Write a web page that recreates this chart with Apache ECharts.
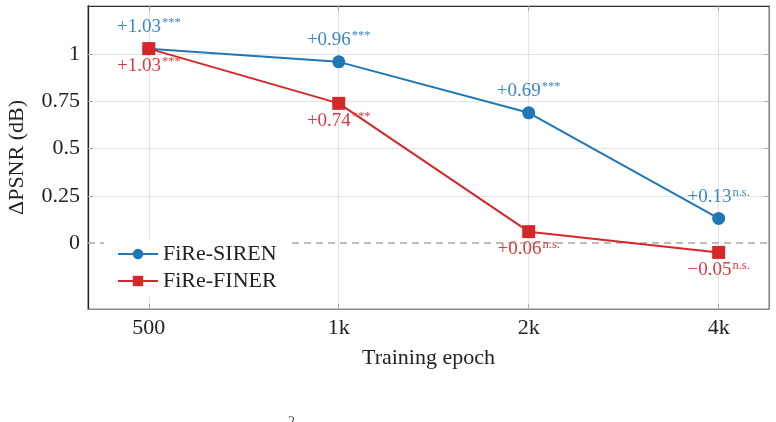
<!DOCTYPE html>
<html>
<head>
<meta charset="utf-8">
<script src="https://cdn.jsdelivr.net/npm/echarts@6/dist/echarts.min.js"></script>
<style>
  html, body { margin: 0; padding: 0; background: #fff; }
  #chart { width: 776px; height: 422px; }
</style>
</head>
<body>
<div id="chart"></div>
<script>
// Delta PSNR per training epoch, FiRe-SIREN vs FiRe-FINER.
var epochLabels = ["500", "1k", "2k", "4k"];
var sirenValues = [1.03, 0.96, 0.69, 0.13];
var finerValues = [1.03, 0.74, 0.06, -0.05];
var sirenSig = ["***", "***", "***", "n.s."];
var finerSig = ["***", "***", "n.s.", "n.s."];
var yTicks = [0, 0.25, 0.5, 0.75, 1];
var xTicks = [0, 1, 2, 3];

var FONT = "Liberation Serif";
var BLUE = "#1f77b4";
var RED = "#d62728";

function fmtDelta(v) {
  return (v < 0 ? "\u2212" : "+") + Math.abs(v).toFixed(2);
}

function toPoints(values) {
  return values.map(function (v, i) { return [xTicks[i], v]; });
}

function annotation(sig, color) {
  return {
    show: true,
    formatter: function (p) {
      return "{v|" + fmtDelta(p.value[1]) + "}{s|" + sig[p.dataIndex] + "}";
    },
    rich: {
      v: { fontFamily: FONT, fontSize: 19, color: color, lineHeight: 22 },
      s: { fontFamily: FONT, fontSize: 12.5, color: color, verticalAlign: "top", lineHeight: 12, padding: [0, 0, 0, 1] }
    }
  };
}

var chart = echarts.init(document.getElementById("chart"));

var sirenLabel = annotation(sirenSig, "#3a88c2");
sirenLabel.position = "top";
sirenLabel.distance = 4;

var finerLabel = annotation(finerSig, "#dc3a42");
finerLabel.position = "bottom";
finerLabel.distance = 0;

var axisText = { fontFamily: FONT, fontSize: 22, color: "#222" };

chart.setOption({
  animation: false,
  grid: {
    left: 88, right: 7, top: 6, bottom: 113,
    containLabel: false,
    outerBoundsMode: "none",
    show: true, borderColor: "#8a8a8a", borderWidth: 1.2
  },
  legend: {
    orient: "vertical",
    left: 104, top: 239,
    padding: [4, 12, 4, 13],
    backgroundColor: "#fff",
    itemWidth: 40, itemHeight: 13, itemGap: 5,
    textStyle: axisText,
    data: ["FiRe-SIREN", "FiRe-FINER"]
  },
  xAxis: [{
    type: "value",
    min: -0.32, max: 3.265,
    name: "Training epoch",
    nameLocation: "middle",
    nameGap: 38,
    nameTextStyle: axisText,
    axisLine: { show: true, onZero: false, lineStyle: { color: "#8a8a8a", width: 1.2 } },
    axisTick: { show: true, inside: true, length: 5, customValues: xTicks, lineStyle: { color: "#aaa" } },
    axisLabel: {
      customValues: xTicks, margin: 8,
      fontFamily: FONT, fontSize: 22, color: "#222",
      formatter: function (v) { return epochLabels[Math.round(v)]; }
    },
    splitLine: { show: true, lineStyle: { color: "#e3e3e3", width: 1.2 } }
  }, {
    type: "value",
    position: "top",
    min: -0.32, max: 3.265,
    axisLine: { show: true, onZero: false, lineStyle: { color: "#333", width: 1.2 } },
    axisTick: { show: true, inside: true, length: 5, customValues: xTicks, lineStyle: { color: "#aaa" } },
    axisLabel: { show: false },
    splitLine: { show: false }
  }],
  yAxis: [{
    type: "value",
    min: -0.35, max: 1.256,
    name: "\u0394PSNR (dB)",
    nameLocation: "middle",
    nameGap: 60,
    nameTextStyle: axisText,
    axisLine: { show: true, onZero: false, lineStyle: { color: "#222", width: 1.3 } },
    axisTick: { show: true, inside: true, length: 5, customValues: [0.25, 0.5, 0.75, 1], lineStyle: { color: "#aaa" } },
    axisLabel: {
      customValues: yTicks, margin: 8,
      fontFamily: FONT, fontSize: 22, color: "#222",
      formatter: function (v) { return String(v); }
    },
    splitLine: { show: true, lineStyle: { color: "#e3e3e3", width: 1.2 } }
  }, {
    type: "value",
    position: "right",
    min: -0.35, max: 1.256,
    axisLine: { show: true, onZero: false, lineStyle: { color: "#8a8a8a", width: 1.2 } },
    axisTick: { show: true, inside: true, length: 5, customValues: [0.25, 0.5, 0.75, 1], lineStyle: { color: "#aaa" } },
    axisLabel: { show: false },
    splitLine: { show: false }
  }],
  series: [{
    name: "FiRe-SIREN",
    type: "line",
    data: toPoints(sirenValues),
    symbol: "circle",
    symbolSize: 13,
    lineStyle: { color: BLUE, width: 2 },
    itemStyle: { color: BLUE },
    label: sirenLabel,
    z: 3,
    markLine: {
      silent: true,
      symbol: "none",
      label: { show: false },
      lineStyle: { color: "#a8a8a8", type: [7, 5], width: 1.5 },
      data: [{ yAxis: 0 }],
      z: 1
    }
  }, {
    name: "FiRe-FINER",
    type: "line",
    data: toPoints(finerValues),
    symbol: "rect",
    symbolSize: 13,
    lineStyle: { color: RED, width: 2 },
    itemStyle: { color: RED },
    label: finerLabel,
    z: 4
  }],
  graphic: [{
    type: "text",
    left: 288, top: 415,
    style: { text: "2", fontFamily: FONT, fontSize: 14, fill: "#555" }
  }]
});
</script>
</body>
</html>
